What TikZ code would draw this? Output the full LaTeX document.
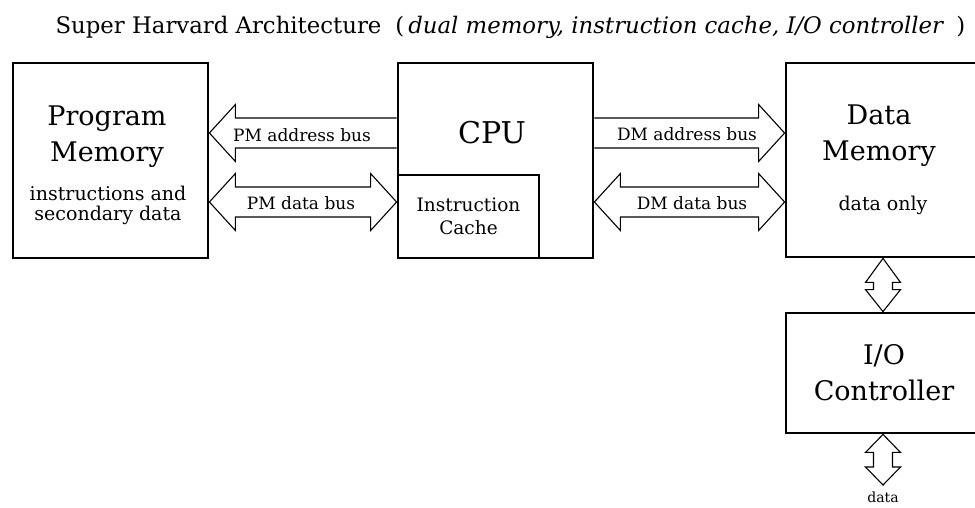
\documentclass[tikz,border=0pt]{standalone}
\usepackage{fontspec}
\setmainfont{DejaVu Serif}
\usetikzlibrary{calc}

\begin{document}
\begin{tikzpicture}[x=1pt, y=1pt,
            box/.style={draw, line width=2.8pt, inner sep=0pt},
            bus/.style={draw, line width=1.1pt, line join=miter},
            big/.style={font=\fontsize{27}{36}\selectfont, align=center},
            small/.style={font=\fontsize{19}{20}\selectfont, align=center},
            buslabel/.style={font=\fontsize{17}{18}\selectfont, anchor=base}]
            \useasboundingbox (0,0) rectangle (975,-507);
            \clip (0,0) rectangle (975,-507);

            \node[anchor=base west, font=\fontsize{22.8}{26}\selectfont] (title) at (52,-33)
                {Super Harvard Architecture\hspace{14pt}(\hspace{4pt}\textit{dual memory, instruction cache, I/O controller}\hspace{12pt})};

            %Boxes
            \node[box, minimum width=195, minimum height=195] (pm) at (110.5,-160.5) {};
            \node[box, minimum width=195, minimum height=195] (cpu) at (495.5,-160.5) {};
            \node[box, line width=2.4pt, minimum width=141, minimum height=83, font=\fontsize{18.5}{23}\selectfont, align=center] (cache) at (468.5,-216.5) {Instruction\\Cache};
            \node[box, minimum width=196, minimum height=194] (dm) at (884,-160) {};
            \node[box, minimum width=196, minimum height=120, big] (io) at (884,-373) {I/O\\Controller};

            %Box texts
            \node[big] (pmname) at (107,-137) {Program\\Memory};
            \node[small] (pmnote) at (108,-205) {instructions and\\secondary data};
            \node[font=\fontsize{30}{36}\selectfont, anchor=base] (cpuname) at (492,-143) {CPU};
            \node[big] (dmname) at (879,-136) {Data\\Memory};
            \node[small, anchor=base] (dmnote) at (883,-210) {data only};

            %PM buses
            \draw[bus] let \p1=(pm.east), \p2=(cpu.west) in
                (\x2,-118) -- (\x1+26,-118) -- (\x1+26,-104.5) -- (\x1,-133) -- (\x1+26,-161.5) -- (\x1+26,-148) -- (\x2,-148);
            \draw[bus] let \p1=(pm.east), \p2=(cpu.west) in
                (\x1,-202) -- (\x1+26,-173.5) -- (\x1+26,-187) -- (\x2-26,-187) -- (\x2-26,-173.5) -- (\x2,-202)
                -- (\x2-26,-230.5) -- (\x2-26,-217) -- (\x1+26,-217) -- (\x1+26,-230.5) -- cycle;
            \node[buslabel] (pmaddr) at (302,-141) {PM address bus};
            \node[buslabel] (pmdata) at (301,-209) {PM data bus};

            %DM buses
            \draw[bus] let \p1=(cpu.east), \p2=(dm.west) in
                (\x1,-118) -- (\x2-26,-118) -- (\x2-26,-104.5) -- (\x2,-133) -- (\x2-26,-161.5) -- (\x2-26,-148) -- (\x1,-148);
            \draw[bus] let \p1=(cpu.east), \p2=(dm.west) in
                (\x1,-202) -- (\x1+26,-173.5) -- (\x1+26,-187) -- (\x2-26,-187) -- (\x2-26,-173.5) -- (\x2,-202)
                -- (\x2-26,-230.5) -- (\x2-26,-217) -- (\x1+26,-217) -- (\x1+26,-230.5) -- cycle;
            \node[buslabel] (dmaddr) at (687,-140) {DM address bus};
            \node[buslabel] (dmdata) at (692,-209) {DM data bus};

            %I/O buses
            \coordinate (ioext) at (883,-485);
            \draw[bus] let \p1=(dm.south), \p2=(io.north) in
                (883,\y1) -- (900.5,\y1-24) -- (892.5,\y1-24) -- (892.5,\y2+22) -- (900.5,\y2+22) -- (883,\y2)
                -- (865.5,\y2+22) -- (873.5,\y2+22) -- (873.5,\y1-24) -- (865.5,\y1-24) -- cycle;
            \draw[bus] let \p1=(io.south), \p2=(ioext) in
                (883,\y1) -- (900.5,\y1-18) -- (892.5,\y1-18) -- (892.5,\y2+18) -- (900.5,\y2+18) -- (883,\y2)
                -- (865.5,\y2+18) -- (873.5,\y2+18) -- (873.5,\y1-18) -- (865.5,\y1-18) -- cycle;
            \node[font=\fontsize{14}{16}\selectfont, anchor=base] (datalabel) at (883,-502) {data};
        \end{tikzpicture}
\end{document}
